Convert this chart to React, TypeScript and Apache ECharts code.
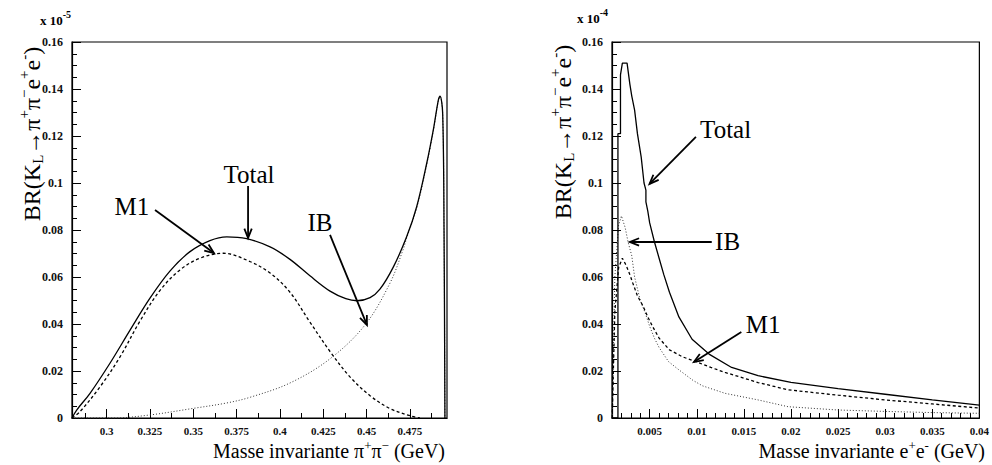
import React, { useEffect, useRef } from "react";
import * as echarts from "echarts";

// ---------- data (values in units of 1e-5 / 1e-4 as on the axes) ----------
const PIPI_TOTAL: [number, number][] = [
  [0.28, 0], [0.2827, 0.0034], [0.2904, 0.0105], [0.3019, 0.0233], [0.3135, 0.0374],
  [0.325, 0.051], [0.3365, 0.0625], [0.3481, 0.0708], [0.3596, 0.0755], [0.3693, 0.0771],
  [0.3808, 0.0763], [0.3943, 0.0728], [0.4058, 0.0675], [0.4173, 0.0605], [0.4289, 0.054],
  [0.4380, 0.0508], [0.4445, 0.0499], [0.452, 0.0512], [0.4577, 0.0548], [0.4654, 0.0642],
  [0.4731, 0.0771], [0.4789, 0.0899], [0.4847, 0.1084], [0.4885, 0.1226], [0.4914, 0.1353],
  [0.4924, 0.137], [0.4939, 0.1296], [0.4947, 0.0787], [0.4952, 0],
];
const PIPI_M1: [number, number][] = [
  [0.28, 0], [0.2846, 0.0027], [0.2962, 0.0133], [0.3077, 0.026], [0.3192, 0.0412],
  [0.3308, 0.0543], [0.3423, 0.063], [0.3539, 0.068], [0.3673, 0.0701], [0.3808, 0.0672],
  [0.3943, 0.0617], [0.4058, 0.0535], [0.4173, 0.0408], [0.4289, 0.0283], [0.4404, 0.0175],
  [0.452, 0.0095], [0.4635, 0.004], [0.475, 0.001], [0.4808, 0],
];
const PIPI_IB: [number, number][] = [
  [0.28, 0], [0.3038, 0], [0.325, 0.0013], [0.35, 0.0041], [0.3693, 0.0064],
  [0.3827, 0.0088], [0.4058, 0.0149], [0.4289, 0.0252], [0.4491, 0.0396], [0.4635, 0.0574],
  [0.471, 0.0715], [0.4731, 0.0765], [0.4789, 0.0893], [0.4847, 0.1078], [0.4885, 0.1222],
  [0.4914, 0.135], [0.4924, 0.1368], [0.4939, 0.1296], [0.4947, 0.0787], [0.4952, 0],
];

const EE_TOTAL: [number, number][] = [
  [0.00102, 0], [0.00163, 0], [0.00163, 0.121], [0.0019, 0.121], [0.0019, 0.146],
  [0.0021, 0.151], [0.0026, 0.151], [0.0029, 0.142], [0.0031, 0.137], [0.0034, 0.131],
  [0.0037, 0.121], [0.0041, 0.111], [0.0044, 0.1], [0.0046, 0.097], [0.0046, 0.092],
  [0.0048, 0.088], [0.005, 0.083], [0.0055, 0.075], [0.006, 0.068], [0.0065, 0.061],
  [0.0071, 0.0535], [0.0081, 0.043], [0.0095, 0.0335], [0.0113, 0.0272], [0.0137, 0.0215],
  [0.0165, 0.018], [0.02, 0.0152], [0.025, 0.0125], [0.03, 0.0101], [0.035, 0.0077],
  [0.04, 0.0055],
];
const EE_M1: [number, number][] = [
  [0.00102, 0], [0.0013, 0.045], [0.0017, 0.064], [0.0021, 0.068], [0.0025, 0.065],
  [0.0029, 0.061], [0.0032, 0.0575], [0.0037, 0.052], [0.0043, 0.0476], [0.0048, 0.043],
  [0.0053, 0.039], [0.006, 0.034], [0.0071, 0.029], [0.0085, 0.026], [0.0097, 0.0243],
  [0.0115, 0.0215], [0.013, 0.0194], [0.0165, 0.0151], [0.0197, 0.012], [0.025, 0.0097],
  [0.03, 0.0077], [0.035, 0.006], [0.04, 0.0042],
];
const EE_IB: [number, number][] = [
  [0.00102, 0], [0.0013, 0.06], [0.0017, 0.082], [0.002, 0.086], [0.0024, 0.081],
  [0.0027, 0.075], [0.0031, 0.069], [0.0034, 0.06], [0.0037, 0.055], [0.004, 0.05],
  [0.0045, 0.045], [0.005, 0.039], [0.0055, 0.034], [0.006, 0.03], [0.007, 0.024],
  [0.0081, 0.0205], [0.0096, 0.016], [0.0106, 0.0137], [0.013, 0.0105], [0.0165, 0.0077],
  [0.0197, 0.0048], [0.025, 0.0034], [0.03, 0.0028], [0.035, 0.0023], [0.04, 0.002],
];

const LEFT_X_TICKS = [0.3, 0.325, 0.35, 0.375, 0.4, 0.425, 0.45, 0.475];
const RIGHT_X_TICKS = [0.005, 0.01, 0.015, 0.02, 0.025, 0.03, 0.035, 0.04];
const LEFT_X_RANGE = [0.28, 0.4964];
const RIGHT_X_RANGE = [0.001, 0.04];
const Y_RANGE = [0, 0.16];

// annotations in data coordinates: [label, textX, textY, tailX, tailY, tipX, tipY]
const LEFT_NOTES: [string, number, number, number, number, number, number][] = [
  ["M1", 0.3146, 0.0902, 0.3279, 0.0885, 0.3619, 0.0702],
  ["Total", 0.3821, 0.1038, 0.3816, 0.0987, 0.3816, 0.0766],
  ["IB", 0.4231, 0.0834, 0.4289, 0.0779, 0.4502, 0.0396],
];
const RIGHT_NOTES: [string, number, number, number, number, number, number][] = [
  ["Total", 0.01306, 0.1226, 0.00991, 0.1196, 0.00498, 0.0996],
  ["IB", 0.01327, 0.0749, 0.01159, 0.0749, 0.00289, 0.0749],
  ["M1", 0.01704, 0.0396, 0.01473, 0.0366, 0.0097, 0.0238],
];

const FONT = "'Liberation Serif', 'Times New Roman', serif";

function minorTicks(lo: number, hi: number, step: number, majorStep: number) {
  const out: number[] = [];
  const n = Math.round((hi - lo) / step);
  for (let i = 0; i <= n; i++) {
    const v = +(lo + i * step).toFixed(6);
    const r = v / majorStep;
    if (Math.abs(r - Math.round(r)) > 1e-6) out.push(v);
  }
  return out;
}

const axisLine = { show: true, lineStyle: { color: "#000", width: 1.2 } };

function xAxes(gridIndex: number, range: number[], majors: number[], minors: number[]) {
  return [
    {
      type: "value", gridIndex, min: range[0], max: range[1], position: "bottom",
      axisLine,
      splitLine: { show: false },
      axisTick: { show: true, inside: true, length: 9, customValues: majors, lineStyle: { color: "#000", width: 1 } },
      axisLabel: {
        show: true, customValues: majors, margin: 7, color: "#111", fontSize: 11,
        fontFamily: FONT, fontWeight: "bold",
        formatter: (v: number) => String(+v.toFixed(4)),
      },
    },
    {
      type: "value", gridIndex, min: range[0], max: range[1], position: "bottom",
      axisLine: { show: false },
      splitLine: { show: false },
      axisTick: { show: true, inside: true, length: 5, customValues: minors, lineStyle: { color: "#000", width: 1 } },
      axisLabel: { show: false },
    },
  ];
}

function yAxis(gridIndex: number) {
  return {
    type: "value", gridIndex, min: Y_RANGE[0], max: Y_RANGE[1], interval: 0.02,
    axisLine,
    splitLine: { show: false },
    axisTick: { show: true, inside: true, length: 9, lineStyle: { color: "#000", width: 1 } },
    minorTick: { show: true, splitNumber: 4, length: 5, lineStyle: { color: "#000", width: 1 } },
    axisLabel: {
      show: true, margin: 9, color: "#111", fontSize: 12, fontFamily: FONT, fontWeight: "bold",
      formatter: (v: number) => String(+v.toFixed(3)),
    },
  };
}

function lineSeries(name: string, data: [number, number][], xi: number, yi: number, kind: string, smooth: number) {
  const style: any =
    kind === "solid"
      ? { color: "#000", width: 1.3, type: "solid" }
      : kind === "dashed"
      ? { color: "#000", width: 1.3, type: [3, 2.5] }
      : { color: "#333", width: 1, type: [1, 2] };
  return {
    name, type: "line", data, xAxisIndex: xi, yAxisIndex: yi,
    showSymbol: false, symbol: "none", smooth,
    lineStyle: style, silent: true, z: kind === "solid" ? 5 : 3,
  };
}

type Piece = [string, number, number, string?]; // text, fontSize, dy, weight

function measure(t: string, s: number, w?: string) {
  const el = new (echarts.graphic as any).Text({ style: { text: t, fontSize: s, fontFamily: FONT, fontWeight: w || "normal" } });
  return el.getBoundingRect().width;
}

function composite(pieces: Piece[], x: number, y: number, align: "left" | "center" | "right", rotation = 0) {
  const widths = pieces.map(([t, s, , w]) => measure(t, s, w));
  const total = widths.reduce((a, b) => a + b, 0);
  let cx = align === "left" ? 0 : align === "center" ? -total / 2 : -total;
  const children = pieces.map(([t, s, dy, w], i) => {
    const c = {
      type: "text", silent: true, x: cx, y: dy,
      style: { text: t, fontSize: s, fontFamily: FONT, fontWeight: w || "normal", fill: "#000", align: "left", verticalAlign: "middle" },
    };
    cx += widths[i];
    return c;
  });
  return { type: "group", silent: true, x, y, rotation, children };
}

export default function App() {
  const ref = useRef<HTMLDivElement>(null);
  useEffect(() => {
    const chart = echarts.init(ref.current!, null, { renderer: "svg" });
    const option: any = {
      animation: false,
      backgroundColor: "#fff",
      grid: [
        { left: 72, top: 42, width: 375, height: 376, show: true, borderColor: "#000", borderWidth: 1.2, backgroundColor: "transparent" },
        { left: 612, top: 42, width: 372, height: 376, show: true, borderColor: "#000", borderWidth: 1.2, backgroundColor: "transparent" },
      ],
      xAxis: [
        ...xAxes(0, LEFT_X_RANGE, LEFT_X_TICKS, minorTicks(0.2875, 0.4875, 0.0125, 0.025)),
        ...xAxes(1, RIGHT_X_RANGE, RIGHT_X_TICKS, minorTicks(0.002, 0.039, 0.001, 0.005)),
      ],
      yAxis: [yAxis(0), yAxis(1)],
      series: [
        lineSeries("IB", PIPI_IB, 0, 0, "dotted", 0.35),
        lineSeries("M1", PIPI_M1, 0, 0, "dashed", 0.35),
        lineSeries("Total", PIPI_TOTAL, 0, 0, "solid", 0.35),
        lineSeries("IB", EE_IB, 2, 1, "dotted", 0),
        lineSeries("M1", EE_M1, 2, 1, "dashed", 0),
        lineSeries("Total", EE_TOTAL, 2, 1, "solid", 0),
      ],
    };
    chart.setOption(option);

    const g: any[] = [];
    const arrow = (p1: number[], p2: number[]) => {
      g.push({ type: "line", silent: true, shape: { x1: p1[0], y1: p1[1], x2: p2[0], y2: p2[1] }, style: { stroke: "#000", lineWidth: 1.8 } });
      const ang = Math.atan2(p1[1] - p2[1], p1[0] - p2[0]);
      const L = 10, a = 0.38;
      g.push({
        type: "polyline", silent: true,
        shape: { points: [
          [p2[0] + L * Math.cos(ang + a), p2[1] + L * Math.sin(ang + a)],
          [p2[0], p2[1]],
          [p2[0] + L * Math.cos(ang - a), p2[1] + L * Math.sin(ang - a)],
        ] },
        style: { stroke: "#000", lineWidth: 1.8, fill: "none" },
      });
    };
    const notes = (list: typeof LEFT_NOTES, si: number) => {
      list.forEach(([label, tx, ty, ax, ay, bx, by]) => {
        const t = chart.convertToPixel({ seriesIndex: si }, [tx, ty]) as number[];
        const p1 = chart.convertToPixel({ seriesIndex: si }, [ax, ay]) as number[];
        const p2 = chart.convertToPixel({ seriesIndex: si }, [bx, by]) as number[];
        g.push({ type: "text", silent: true, x: t[0], y: t[1], style: { text: label, fontSize: 25, fontFamily: FONT, fill: "#000", align: "center", verticalAlign: "middle" } });
        arrow(p1, p2);
      });
    };
    notes(LEFT_NOTES, 0);
    notes(RIGHT_NOTES, 3);

    // exponent labels
    g.push(composite([["x 10", 13, 0, "bold"], ["-5", 10, -6, "bold"]], 40, 20, "left"));
    g.push(composite([["x 10", 13, 0, "bold"], ["-4", 10, -6, "bold"]], 577, 18, "left"));
    // y titles
    const yPieces: Piece[] = [
      ["BR(K", 24, 0], ["L", 15, 6], ["→π", 24, 0], ["+", 15, -8], ["π", 24, 0], ["−", 15, -8],
      ["e", 24, 0], ["+", 15, -8], ["e", 24, 0], ["-", 15, -8], [")", 24, 0],
    ];
    g.push(composite(yPieces, 32, 134, "center", Math.PI / 2));
    g.push(composite(yPieces, 563, 132, "center", Math.PI / 2));
    // x titles
    g.push(composite([["Masse invariante π", 20, 0], ["+", 13, -6], ["π", 20, 0], ["−", 13, -6], [" (GeV)", 20, 0]], 445, 451, "right"));
    g.push(composite([["Masse invariante e", 20, 0], ["+", 13, -6], ["e", 20, 0], ["-", 13, -6], [" (GeV)", 20, 0]], 985, 451, "right"));

    chart.setOption({ graphic: g });
    return () => chart.dispose();
  }, []);
  return <div ref={ref} style={{ position: "fixed", left: 0, top: 0, width: 992, height: 465, background: "#fff" }} />;
}
